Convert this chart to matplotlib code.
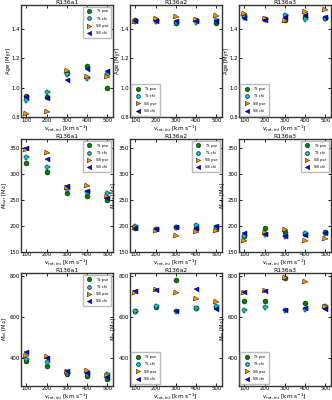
import matplotlib
matplotlib.use("Agg")
import matplotlib.pyplot as plt

vrot = [100, 200, 300, 400, 500]
stars = ["R136a1", "R136a2", "R136a3"]

# age [Myr] per star: TS pse, TS chi, SB pse, SB chi
age_ts_pse = [[0.945, 0.94, 1.10, 1.15, 1.00],
              [1.46, 1.455, 1.438, 1.455, 1.438],
              [1.49, 1.462, 1.455, 1.48, 1.472]]
age_ts_chi = [[0.92, 0.975, 1.095, 1.063, 1.09],
              [1.449, 1.452, 1.447, 1.447, 1.458],
              [1.478, 1.462, 1.49, 1.465, 1.468]]
age_sb_pse = [[0.825, 0.835, 1.115, 1.074, 1.072],
              [1.442, 1.462, 1.478, 1.46, 1.487],
              [1.50, 1.465, 1.453, 1.51, 1.522]]
age_sb_chi = [[0.94, 0.93, 1.054, 1.124, 1.112],
              [1.449, 1.452, 1.452, 1.452, 1.452],
              [1.47, 1.455, 1.48, 1.49, 1.475]]

# current mass [Msun]
mc_ts_pse = [[322, 303, 263, 257, 250],
             [196, 193, 197, 196, 194],
             [181, 196, 188, 184, 187]]
mc_ts_chi = [[333, 314, 271, 265, 263],
             [199, 193, 197, 202, 197],
             [180, 184, 180, 185, 186]]
mc_sb_pse = [[346, 340, 272, 276, 256],
             [196, 189, 181, 188, 189],
             [171, 185, 191, 171, 174]]
mc_sb_chi = [[350, 329, 276, 268, 254],
             [195, 193, 197, 195, 200],
             [185, 184, 181, 182, 186]]

# initial mass [Msun]
mi_ts_pse = [[384, 362, 321, 313, 297],
             [628, 650, 782, 643, 650],
             [679, 679, 792, 666, 648]]
mi_ts_chi = [[395, 382, 325, 321, 321],
             [628, 652, 631, 643, 652],
             [632, 650, 632, 640, 652]]
mi_sb_pse = [[408, 407, 333, 338, 311],
             [718, 730, 718, 690, 675],
             [715, 728, 792, 770, 648]]
mi_sb_chi = [[428, 400, 338, 326, 305],
             [725, 730, 631, 735, 640],
             [723, 728, 632, 645, 638]]

rows = [
    ("Age [Myr]", (age_ts_pse, age_ts_chi, age_sb_pse, age_sb_chi), (0.8, 1.56),
     [0.8, 1.0, 1.2, 1.4], ["upper right", "lower left", "lower left"]),
    (r"$M_{\rm curr}$ [M$_{\odot}$]", (mc_ts_pse, mc_ts_chi, mc_sb_pse, mc_sb_chi), (150, 368),
     [150, 200, 250, 300, 350], ["upper right", "upper right", "upper right"]),
    (r"$M_{\rm ini}$ [M$_{\odot}$]", (mi_ts_pse, mi_ts_chi, mi_sb_pse, mi_sb_chi), (265, 815),
     [400, 600, 800], ["upper right", "lower left", "lower left"]),
]

labels = ["TS pse", "TS chi", "SB pse", "SB chi"]
markers = ["o", "P", ">", "<"]
colors = ["green", "darkturquoise", "darkorange", "blue"]

fig, axes = plt.subplots(3, 3, figsize=(3.32, 4.0), dpi=100)
fig.subplots_adjust(left=0.062, right=0.997, top=0.988, bottom=0.036,
                    wspace=0.18, hspace=0.19)

for r, (ylab, series, ylim, yticks, locs) in enumerate(rows):
    for c in range(3):
        ax = axes[r, c]
        for s, lab, m, col in zip(series, labels, markers, colors):
            ax.plot(vrot, s[c], ls="none", marker=m, ms=3.6, mfc=col,
                    mec="k", mew=0.3, label=lab)
        ax.set_xlim(72, 528)
        ax.set_ylim(*ylim)
        ax.set_xticks(vrot)
        ax.set_yticks(yticks)
        ax.tick_params(direction="in", top=True, right=True, labelsize=3.9,
                       length=2, width=0.6, pad=0.6)
        for sp in ax.spines.values():
            sp.set_linewidth(1.0)
            sp.set_color("#333333")
        ax.set_title(stars[c], fontsize=4.3, pad=0.8)
        ax.set_xlabel(r"$v_{\rm rot,ini}$ [km s$^{-1}$]", fontsize=4.2, labelpad=0.2)
        ax.set_ylabel(ylab, fontsize=3.8, labelpad=0.1)
        ax.legend(loc=locs[c], fontsize=2.6, markerscale=0.9, handletextpad=0.8,
                  borderpad=0.8, labelspacing=0.9, frameon=True, fancybox=False,
                  edgecolor="#bbbbbb", framealpha=1)

fig.savefig("out.png", dpi=100)
